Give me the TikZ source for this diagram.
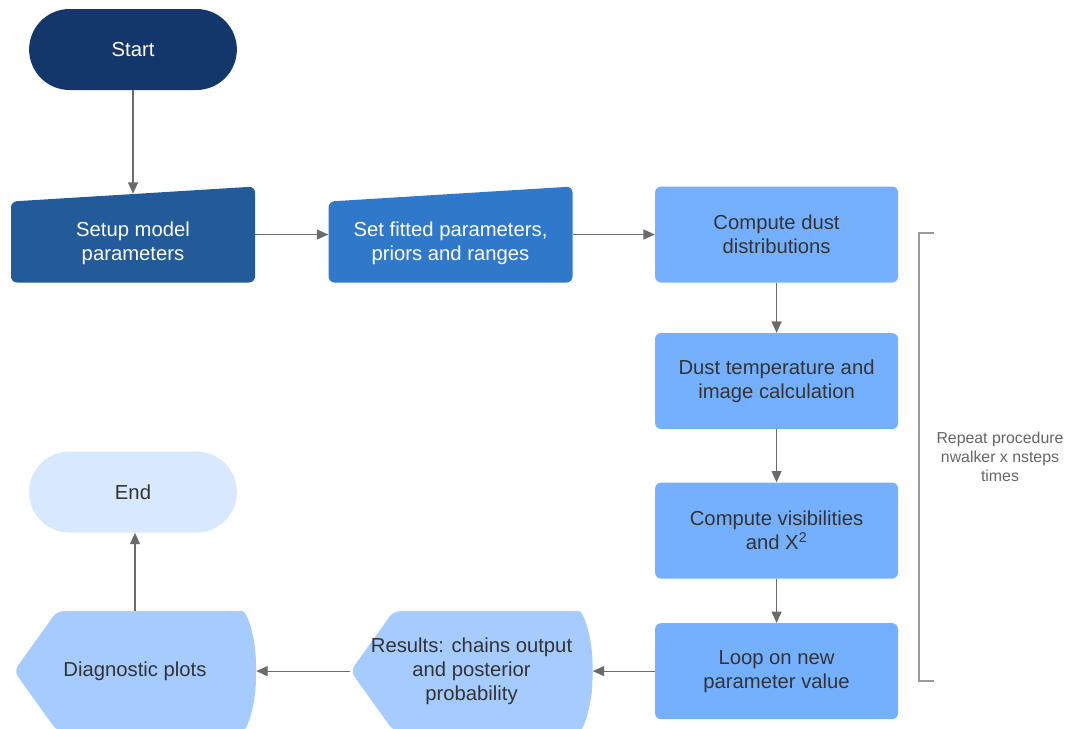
\documentclass[tikz,border=0pt]{standalone}
\usepackage{fontspec}
\setmainfont{Liberation Sans}
\usetikzlibrary{positioning,arrows.meta,shapes.misc,calc}
\definecolor{navy}{HTML}{14376B}
\definecolor{setupblue}{HTML}{235A99}
\definecolor{fitblue}{HTML}{3079CA}
\definecolor{procblue}{HTML}{75B0FF}
\definecolor{resblue}{HTML}{A6CCFF}
\definecolor{endblue}{HTML}{D8E9FF}
\definecolor{textgray}{HTML}{333333}
\definecolor{arrowgray}{HTML}{6B6B6B}
\definecolor{notegray}{HTML}{666666}
\definecolor{bracketgray}{HTML}{9A9A9A}
\newcommand{\boxfont}{\fontsize{15.2}{18}\selectfont}
\tikzset{
  terminal/.style={rounded rectangle, minimum width=162.5pt, minimum height=60.75pt, font=\boxfont, align=center},
  process/.style={rectangle, rounded corners=4.5pt, fill=procblue, text=textgray, minimum width=182.25pt, minimum height=72pt, font=\boxfont, align=center},
  manual/.style={rectangle, minimum width=183pt, minimum height=72pt, font=\boxfont, align=center, text height=42pt,
                 path picture={\fill[#1, rounded corners=4.5pt] (path picture bounding box.south west)
                   -- ($(path picture bounding box.north west)+(0,-11.25pt)$)
                   -- (path picture bounding box.north east) -- (path picture bounding box.south east) -- cycle;}},
  display/.style={rectangle, minimum width=181.5pt, minimum height=90pt, font=\boxfont, align=center, text=textgray,
                  path picture={\fill[#1, rounded corners=5pt] (path picture bounding box.west)
                   -- ($(path picture bounding box.north west)+(32.25pt,0)$)
                   -- ($(path picture bounding box.north east)+(-15pt,0)$)
                   .. controls ($(path picture bounding box.north east)+(-6.75pt,0)$) and ($(path picture bounding box.east)+(0,24.75pt)$) .. (path picture bounding box.east)
                   .. controls ($(path picture bounding box.east)+(0,-24.75pt)$) and ($(path picture bounding box.south east)+(-6.75pt,0)$) .. ($(path picture bounding box.south east)+(-15pt,0)$)
                   -- ($(path picture bounding box.south west)+(32.25pt,0)$) -- cycle;}},
  fwd/.style={-{Triangle[length=8.5pt, width=7.5pt]}, line width=0.9pt, draw=arrowgray, fill=arrowgray},
  bracket/.style={line width=0.9pt, draw=bracketgray},
  note/.style={font=\fontsize{11.9}{14.25}\selectfont, text=notegray, align=center},
}
\begin{document}
\begin{tikzpicture}[x=0.75pt, y=-0.75pt]
  \useasboundingbox (0,0) rectangle (1077,728);

  \node[terminal, fill=navy, text=white] (start) at (133,49.5) {Start};
  \node[manual=setupblue, text=white] (setup) [below=72pt of start] {Setup model\\parameters};
  \node[manual=fitblue, text=white] (fitted) [right=54.75pt of setup] {Set fitted parameters,\\priors and ranges};
  \node[process] (dust) [right=61.5pt of fitted] {Compute dust\\distributions};
  \node[process] (temp) [below=37.5pt of dust] {Dust temperature and\\image calculation};
  \node[process] (vis) [below=39.75pt of temp] {Compute visibilities\\and X\textsuperscript{2}};
  \node[process] (loop) [below=33pt of vis] {Loop on new\\parameter value};
  \node[display=resblue] (results) [left=46.5pt of loop] {Results: chains output\\and posterior\\probability};
  \node[display=resblue] (diag) [left=70.5pt of results] {Diagnostic plots};
  \node[terminal, fill=endblue, text=textgray] (finish) [above=58.5pt of diag, xshift=-1.5pt] {End};

  \draw[fwd] (start.south) -- ($(setup.north)+(0,-5.6pt)$);
  \draw[fwd] (setup) -- (fitted);
  \draw[fwd] (fitted) -- (dust);
  \draw[fwd] (dust) -- (temp);
  \draw[fwd] (temp) -- (vis);
  \draw[fwd] (vis) -- (loop);
  \draw[fwd] (loop.west) -- (results.east);
  \draw[fwd] (results.west) -- (diag.east);
  \draw[fwd] (diag.north) -- (diag.north |- finish.south);

  % repeat bracket
  \draw[bracket] (934,233) -- (919,233) -- (919,681) -- (934,681);
  \node[note] (repeat) at (1000,457) {Repeat procedure\\nwalker x nsteps\\times};

\end{tikzpicture}
\end{document}
